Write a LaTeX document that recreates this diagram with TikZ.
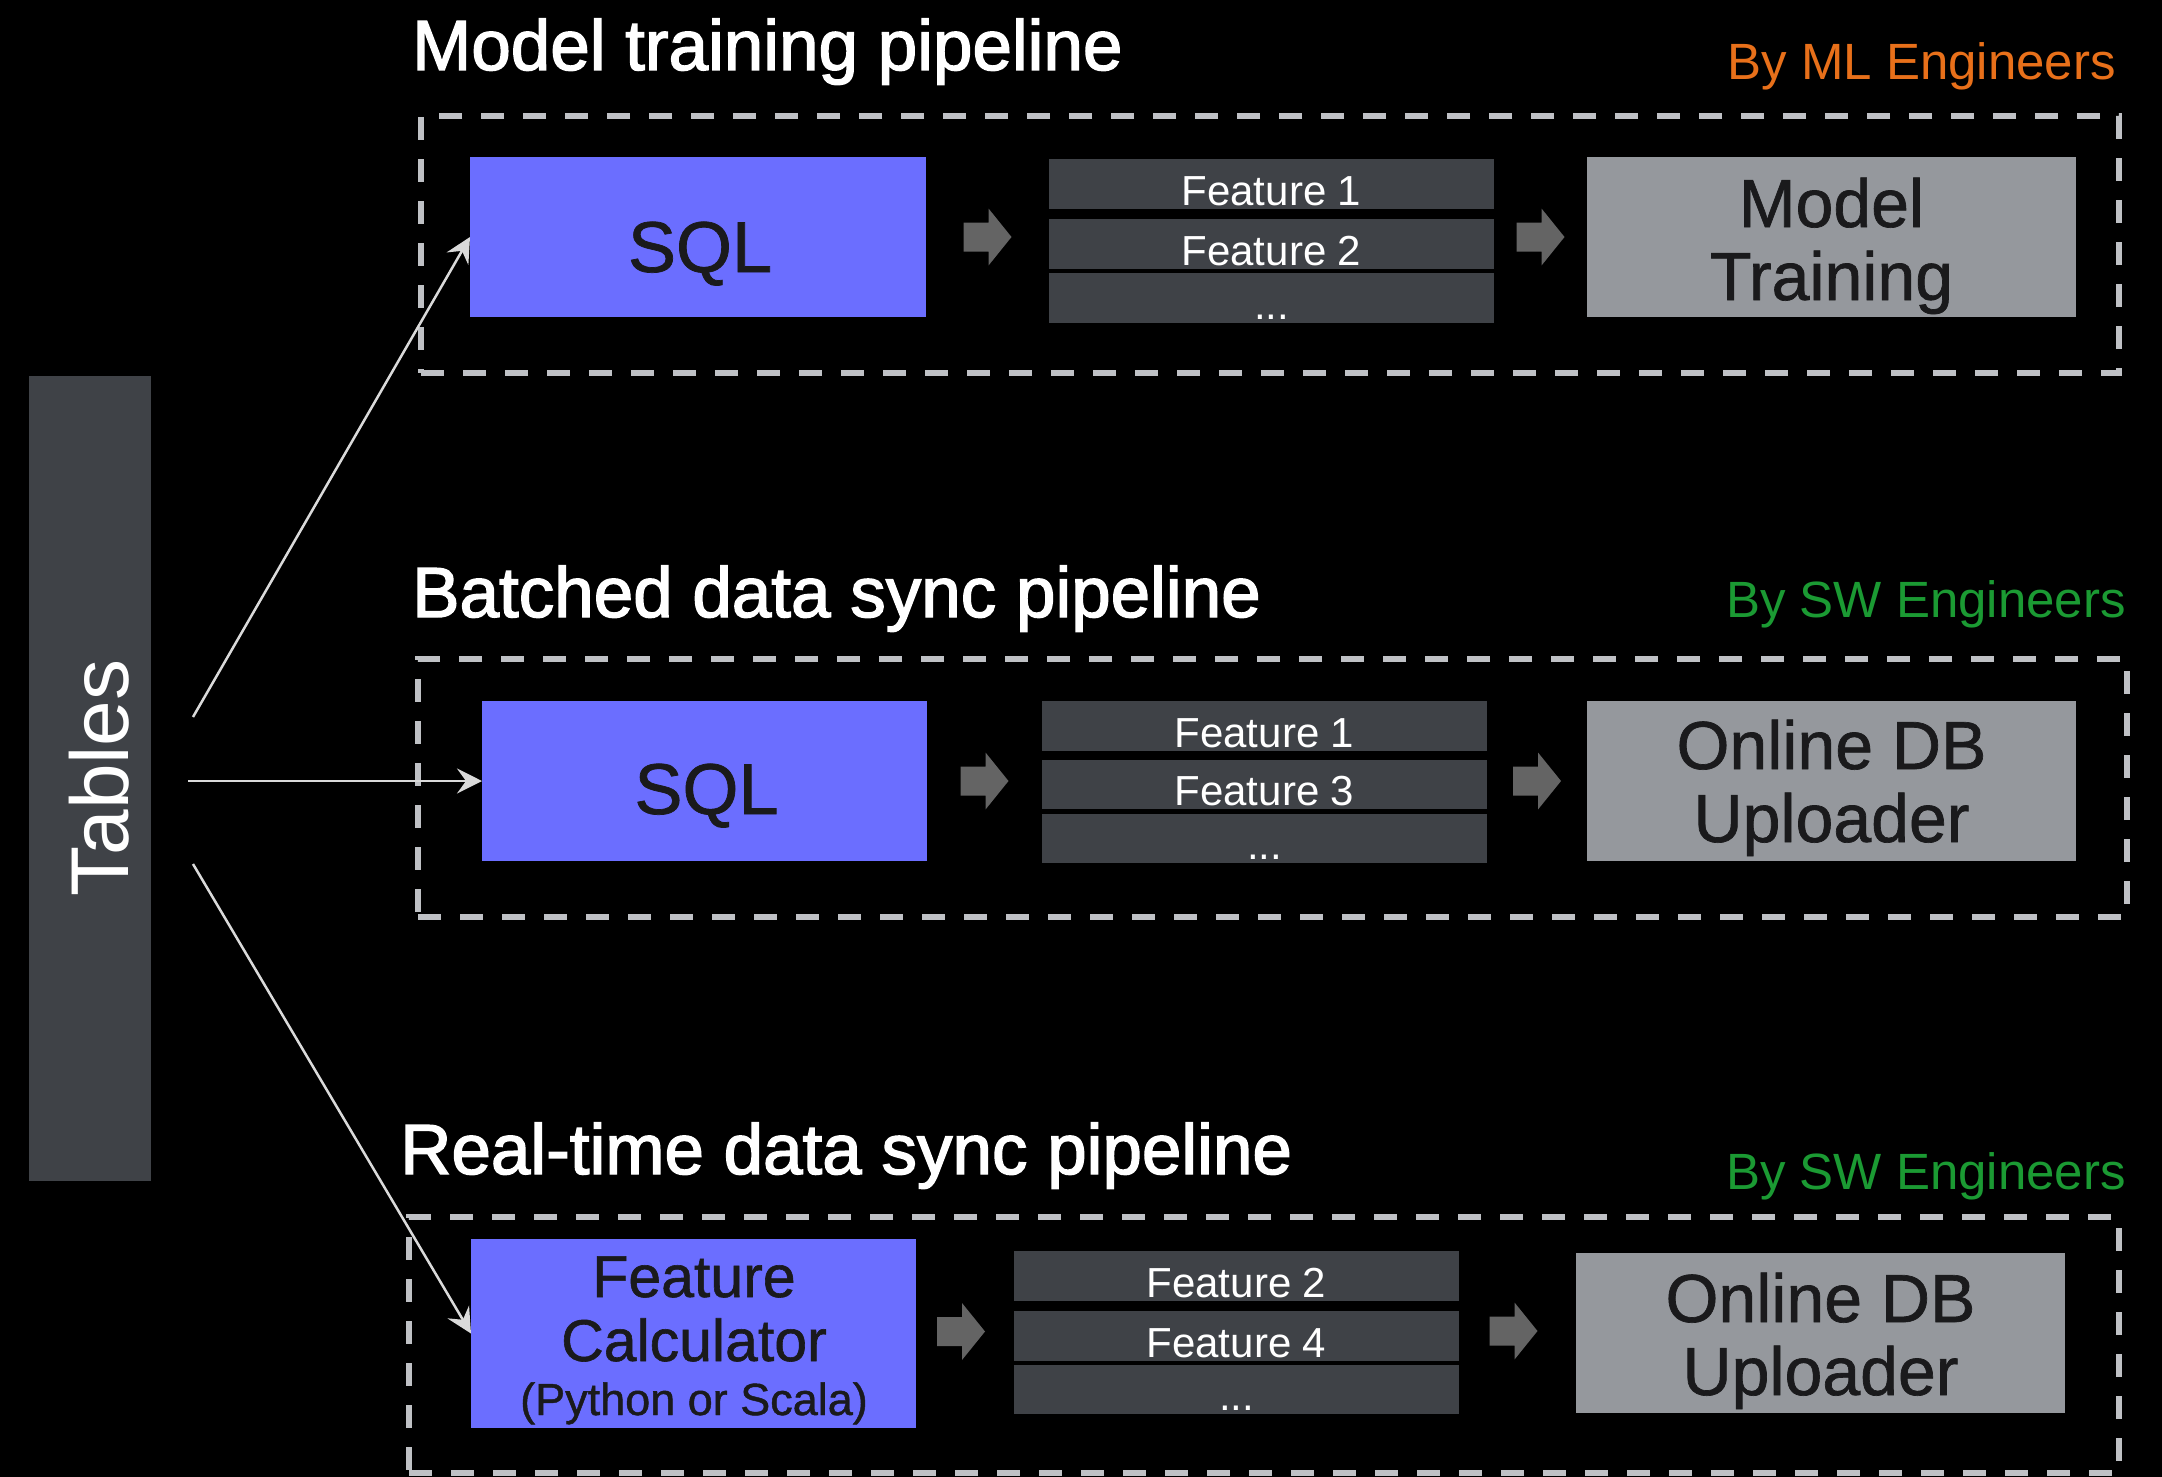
\documentclass[tikz,border=0pt]{standalone}
\usepackage{fontspec}
\setmainfont{Liberation Sans}
\newfontfamily\titlefont[FakeBold=2]{Liberation Sans}
\newfontfamily\medfont[FakeBold=1]{Liberation Sans}
\usetikzlibrary{arrows.meta,calc}
\definecolor{bv}{HTML}{6B6EFF}
\definecolor{darkbox}{HTML}{3F4247}
\definecolor{lightbox}{HTML}{95989D}
\definecolor{arrowgray}{HTML}{646464}
\definecolor{dashgray}{HTML}{BFC1C5}
\definecolor{connc}{HTML}{DADADA}
\definecolor{darktext}{HTML}{1A1A1C}
\definecolor{mlorange}{HTML}{E8701A}
\definecolor{swgreen}{HTML}{1B9A33}
\tikzset{
  boxbase/.style={inner sep=0pt, outer sep=0pt, draw=none},
  srcbox/.style={boxbase, fill=bv},
  featbox/.style={boxbase, fill=darkbox, minimum width=445pt},
  outbox/.style={boxbase, fill=lightbox, minimum width=489pt, minimum height=160pt},
  groupbox/.style={draw=dashgray, line width=6pt, dash pattern=on 23pt off 19pt, inner sep=0pt, outer sep=0pt},
  conn/.style={draw=connc, line width=2.5pt, -{Stealth[length=25pt,width=25pt,inset=9pt]}},
  titletext/.style={anchor=base west, text=white, inner sep=0pt, font=\titlefont\fontsize{71}{80}\selectfont},
  bytext/.style={anchor=base east, inner sep=0pt, font=\fontsize{51}{60}\selectfont},
  boxtext/.style={anchor=base, text=darktext, inner sep=0pt, font=\medfont\fontsize{68}{80}\selectfont},
  sqltext/.style={anchor=base, text=darktext, inner sep=0pt, font=\medfont\fontsize{72}{80}\selectfont},
  fctext/.style={anchor=base, text=darktext, inner sep=0pt, font=\medfont\fontsize{59}{70}\selectfont},
  fcsmall/.style={anchor=base, text=darktext, inner sep=0pt, font=\medfont\fontsize{45}{50}\selectfont},
  feattext/.style={anchor=base, text=white, inner sep=0pt, font=\fontsize{42}{50}\selectfont},
  blockarrow/.pic={\fill[arrowgray] (-24,-14.5) -- (1,-14.5) -- (1,-28.5) -- (24,0) -- (1,28.5) -- (1,14.5) -- (-24,14.5) -- cycle;},
}
\begin{document}
\begin{tikzpicture}[x=1pt,y=-1pt]
\useasboundingbox (0,0) rectangle (2162,1477);
\fill[black] (0,0) rectangle (2162,1477);

% Tables
\node[boxbase, fill=darkbox, minimum width=122pt, minimum height=805pt] (tables) at (90,778.5) {};
\node[anchor=base, rotate=90, text=white, inner sep=0pt, font=\fontsize{82}{90}\selectfont] (tablestext) at (128,778) {Tables};

% group containers
\node[groupbox, minimum width=1698pt, minimum height=257pt] (g1) at (1270,244.5) {};
\node[groupbox, minimum width=1709pt, minimum height=258pt] (g2) at (1272.5,788) {};
\node[groupbox, minimum width=1710pt, minimum height=256pt] (g3) at (1264,1345) {};

% titles
\node[titletext] (title1) at (412,70) {Model training pipeline};
\node[titletext] (title2) at (412,617) {Batched data sync pipeline};
\node[titletext] (title3) at (400,1174) {Real-time data sync pipeline};
\node[bytext, text=mlorange] (by1) at (2116,80) {By ML Engineers};
\node[bytext, text=swgreen] (by2) at (2126,617) {By SW Engineers};
\node[bytext, text=swgreen] (by3) at (2126,1189) {By SW Engineers};

% section 1
\node[srcbox, minimum width=456pt, minimum height=160pt] (sql1) at (698,237) {};
\node[featbox, minimum height=50pt] (f1a) at (1271.5,184) {};
\node[featbox, minimum height=50pt] (f1b) at (1271.5,244) {};
\node[featbox, minimum height=50pt] (f1c) at (1271.5,298) {};
\node[outbox] (mt) at (1831.5,237) {};

% section 2
\node[srcbox, minimum width=445pt, minimum height=160pt] (sql2) at (704.5,781) {};
\node[featbox, minimum height=50pt] (f2a) at (1264.5,726) {};
\node[featbox, minimum height=49pt] (f2b) at (1264.5,784.5) {};
\node[featbox, minimum height=49pt] (f2c) at (1264.5,838.5) {};
\node[outbox] (odb2) at (1831.5,781) {};

% section 3
\node[srcbox, minimum width=445pt, minimum height=189pt] (fc) at (693.5,1333.5) {};
\node[featbox, minimum height=50pt] (f3a) at (1236.5,1276) {};
\node[featbox, minimum height=50pt] (f3b) at (1236.5,1336) {};
\node[featbox, minimum height=49pt] (f3c) at (1236.5,1389.5) {};
\node[outbox] (odb3) at (1820.5,1333) {};

% block arrows
\pic at ($(sql1.east)!0.5!(sql1.east -| f1b.west)$) {blockarrow};
\pic at ($(mt.west -| f1b.east)!0.5!(mt.west)$) {blockarrow};
\pic at ($(sql2.east)!0.5!(sql2.east -| f2b.west)$) {blockarrow};
\pic at ($(odb2.west -| f2b.east)!0.5!(odb2.west)$) {blockarrow};
\pic at ($($(fc.east)!0.5!(fc.east -| f3b.west)$)+(-4,-2)$) {blockarrow};
\pic at ($($(odb3.west -| f3b.east)!0.5!(odb3.west)$)+(-4,-2)$) {blockarrow};

% box texts
\node[sqltext] (sql1t) at ($(sql1.center)+(2,35)$) {SQL};
\node[sqltext] (sql2t) at ($(sql2.center)+(2,33)$) {SQL};
\node[boxtext] (mt1) at ($(mt.center)+(0,-10)$) {Model};
\node[boxtext] (mt2) at ($(mt.center)+(0,63)$) {Training};
\node[boxtext] (odb2a) at ($(odb2.center)+(0,-12)$) {Online DB};
\node[boxtext] (odb2b) at ($(odb2.center)+(0,61)$) {Uploader};
\node[boxtext] (odb3a) at ($(odb3.center)+(0,-11)$) {Online DB};
\node[boxtext] (odb3b) at ($(odb3.center)+(0,62)$) {Uploader};
\node[fctext] (fct1) at (694,1297) {Feature};
\node[fctext] (fct2) at (694,1361) {Calculator};
\node[fcsmall] (fct3) at (694,1415) {(Python or Scala)};

% feature texts
\node[feattext] (f1at) at ($(f1a.south)+(0,-4)$) {Feature 1};
\node[feattext] (f1bt) at ($(f1b.south)+(0,-4)$) {Feature 2};
\node[feattext] (f1ct) at ($(f1c.south)+(0,-4)$) {...};
\node[feattext] (f2at) at ($(f2a.south)+(0,-4)$) {Feature 1};
\node[feattext] (f2bt) at ($(f2b.south)+(0,-4)$) {Feature 3};
\node[feattext] (f2ct) at ($(f2c.south)+(0,-4)$) {...};
\node[feattext] (f3at) at ($(f3a.south)+(0,-4)$) {Feature 2};
\node[feattext] (f3bt) at ($(f3b.south)+(0,-4)$) {Feature 4};
\node[feattext] (f3ct) at ($(f3c.south)+(0,-4)$) {...};

% connectors from Tables
\coordinate (s1) at (193,717);
\coordinate (s2) at (188,781);
\coordinate (s3) at (193,864);
\draw[conn] (s1) -- (sql1.west);
\draw[conn] (s2) -- (sql2.west);
\draw[conn] (s3) -- (fc.west);
\end{tikzpicture}
\end{document}
